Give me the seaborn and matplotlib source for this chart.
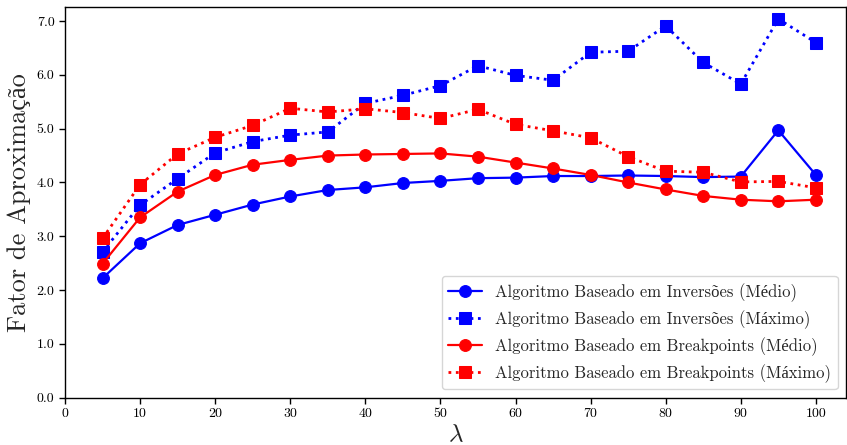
import matplotlib
matplotlib.use("Agg")
import matplotlib.pyplot as plt
import seaborn as sns
import pandas as pd

lambdas = [5, 10, 15, 20, 25, 30, 35, 40, 45, 50, 55, 60, 65, 70, 75, 80, 85, 90, 95, 100]
inv_medio = [2.22, 2.87, 3.21, 3.40, 3.59, 3.74, 3.86, 3.91, 3.99, 4.03,
             4.08, 4.09, 4.12, 4.12, 4.13, 4.12, 4.10, 4.11, 4.97, 4.14]
inv_maximo = [2.71, 3.58, 4.07, 4.55, 4.76, 4.88, 4.94, 5.47, 5.62, 5.80,
              6.17, 5.99, 5.90, 6.42, 6.44, 6.91, 6.23, 5.83, 7.04, 6.60]
bp_medio = [2.49, 3.35, 3.83, 4.14, 4.33, 4.42, 4.50, 4.52, 4.53, 4.54,
            4.48, 4.37, 4.26, 4.14, 4.00, 3.87, 3.75, 3.68, 3.65, 3.68]
bp_maximo = [2.96, 3.96, 4.53, 4.84, 5.06, 5.38, 5.31, 5.37, 5.30, 5.19,
             5.36, 5.08, 4.96, 4.83, 4.48, 4.21, 4.19, 4.01, 4.02, 3.90]
labels = ["Algoritmo Baseado em Inversões (Médio)",
          "Algoritmo Baseado em Inversões (Máximo)",
          "Algoritmo Baseado em Breakpoints (Médio)",
          "Algoritmo Baseado em Breakpoints (Máximo)"]
colors = ["blue", "blue", "red", "red"]
markers = ["o", "s", "o", "s"]
styles = ["-", ":", "-", ":"]
yticks = [0.0, 1.0, 2.0, 3.0, 4.0, 5.0, 6.0, 7.0]
xticks = [0, 10, 20, 30, 40, 50, 60, 70, 80, 90, 100]

sns.set_style("white")
plt.rcParams["font.family"] = ["cmr10", "Liberation Serif"]
plt.rcParams["mathtext.fontset"] = "cm"
plt.rcParams["axes.formatter.use_mathtext"] = True

fig = plt.figure(figsize=(8.47, 4.45), dpi=100)
ax = fig.add_axes([0.0767, 0.1063, 0.922, 0.879])

series = [inv_medio, inv_maximo, bp_medio, bp_maximo]
for vals, lab, c, m, ls in zip(series, labels, colors, markers, styles):
    df = pd.DataFrame({"x": lambdas, "y": vals})
    sns.lineplot(data=df, x="x", y="y", ax=ax, color=c, marker=m, linestyle=ls,
                 linewidth=1.6 if ls == "-" else 2.0, markersize=8.5,
                 markeredgecolor=c, label=lab)

ax.set_xlim(0, 104.0)
ax.set_ylim(0, 7.27)
ax.set_xticks(xticks)
ax.set_xticklabels([str(v) for v in xticks])
ax.set_yticks(yticks)
ax.set_yticklabels([f"{v:.1f}" for v in yticks])
ax.tick_params(axis="both", direction="out", length=4, width=1, labelsize=10,
               bottom=True, left=True, colors="black")
for s in ax.spines.values():
    s.set_color("black")
    s.set_linewidth(1.0)
ax.set_xlabel(r"$\lambda$", fontsize=18, labelpad=3)
ax.set_ylabel("Fator de Aproximação", fontsize=19)
ax.yaxis.set_label_coords(-0.044, 0.5)
ax.legend(loc="lower right", fontsize=12, frameon=True, framealpha=0.8,
          edgecolor="#cccccc", fancybox=True, handlelength=2.0,
          borderpad=0.4, bbox_to_anchor=(1.0, 0.0), borderaxespad=0.5)

fig.savefig("out.png", dpi=100)
